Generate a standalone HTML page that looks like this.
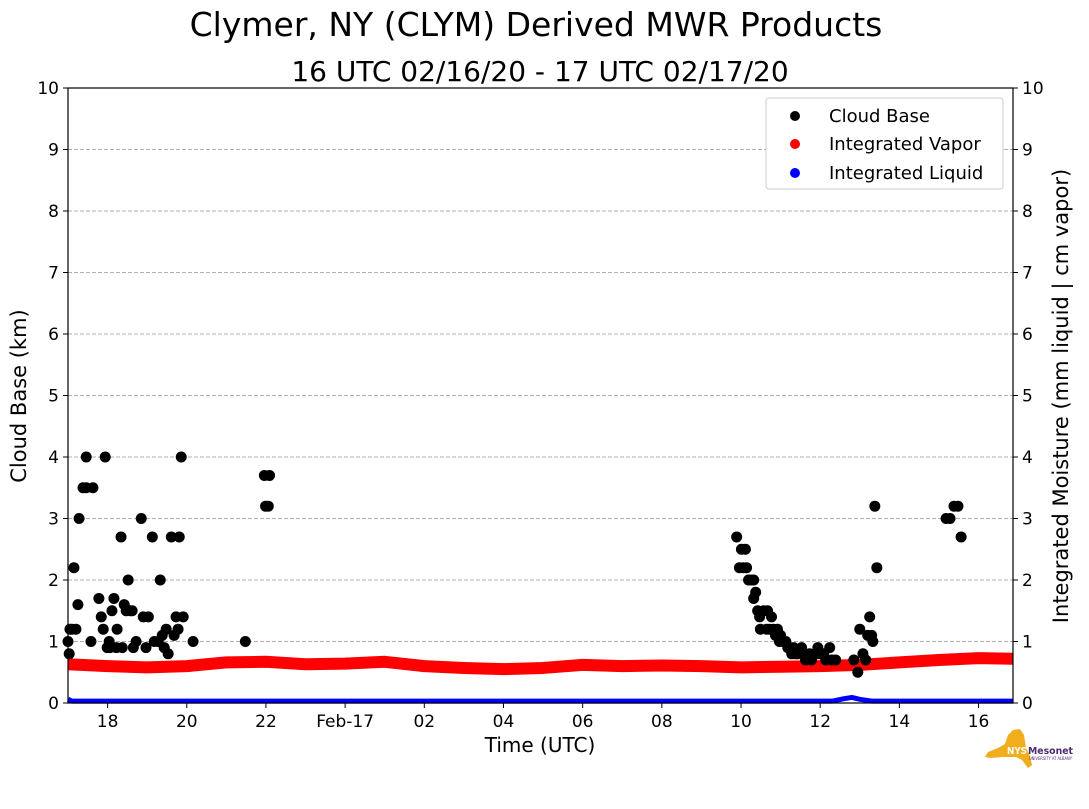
<!DOCTYPE html>
<html><head><meta charset="utf-8"><style>
body{margin:0;background:#fff;}
svg text{font-family:"DejaVu Sans","Liberation Sans",sans-serif;}
</style></head><body>
<svg id="chart" width="1089" height="804" xmlns="http://www.w3.org/2000/svg">
<text x="536" y="36" font-size="33" text-anchor="middle">Clymer, NY (CLYM) Derived MWR Products</text>
<text x="540" y="81" font-size="28" text-anchor="middle">16 UTC 02/16/20 - 17 UTC 02/17/20</text>
<g id="grid"></g>
<g id="series"></g>
<rect x="68" y="88" width="945" height="615" fill="none" stroke="#000" stroke-width="1.2"/>
<g id="axes"></g>
<text x="540" y="752" font-size="20" text-anchor="middle">Time (UTC)</text>
<text transform="translate(26,396) rotate(-90)" font-size="21" text-anchor="middle">Cloud Base (km)</text>
<text transform="translate(1068,396) rotate(-90)" font-size="21" text-anchor="middle">Integrated Moisture (mm liquid | cm vapor)</text>
<g>
<rect x="766" y="98" width="237" height="91" rx="3" fill="#fff" stroke="#ccc"/>
<circle cx="795" cy="116" r="5" fill="#000"/><text x="829" y="122" font-size="18">Cloud Base</text>
<circle cx="795" cy="144" r="5" fill="red"/><text x="829" y="150" font-size="18">Integrated Vapor</text>
<circle cx="795" cy="173" r="5" fill="blue"/><text x="829" y="179" font-size="18">Integrated Liquid</text>
</g>
<g>
<polygon points="988,752 998,748 1005,744 1008,735 1013,730 1020,729 1024,735 1026,748 1030,756 1032,765 1028,768 1022,760 1016,757 1003,757 991,758 985,757" fill="#f0ad1c"/>
<text x="1007" y="754" font-size="10" font-weight="bold" fill="#fff" textLength="20" lengthAdjust="spacingAndGlyphs">NYS</text>
<text x="1028" y="754" font-size="10" font-weight="bold" fill="#4b2a73" textLength="45" lengthAdjust="spacingAndGlyphs">Mesonet</text>
<text x="1029" y="760" font-size="4" fill="#4b2a73" textLength="43" lengthAdjust="spacingAndGlyphs">UNIVERSITY AT ALBANY</text>
</g>
</svg>
<script>
// time in hours since 17 UTC 02/16/20
const cloudTimes = [0,0.03,0.05,0.15,0.10,0.20,0.25,0.28,0.38,0.46,0.46,0.58,0.63,0.78,0.84,0.89,0.94,0.99,1.04,1.06,1.11,1.16,1.22,1.24,1.34,1.37,1.42,1.47,1.52,1.57,1.62,1.65,1.72,1.85,1.90,1.97,2.03,2.13,2.18,2.28,2.33,2.38,2.43,2.48,2.53,2.61,2.68,2.73,2.78,2.81,2.86,2.91,3.16,4.48,4.96,4.99,5.06,5.09,
16.89,16.96,17.01,17.11,17.06,17.14,17.19,17.27,17.32,17.32,17.37,17.42,17.47,17.49,17.57,17.65,17.67,17.72,17.77,17.82,17.87,17.92,17.97,18.00,18.05,18.13,18.18,18.23,18.28,18.33,18.38,18.43,18.53,18.58,18.63,18.73,18.78,18.89,18.94,18.99,19.09,19.14,19.24,19.29,19.39,19.85,19.95,20.00,20.08,20.15,20.20,20.25,20.30,20.33,20.38,20.43,22.18,22.28,22.38,22.48,22.56];
const cloudBase = [1.0,0.8,1.2,2.2,1.2,1.2,1.6,3.0,3.5,4.0,3.5,1.0,3.5,1.7,1.4,1.2,4.0,0.9,1.0,0.9,1.5,1.7,0.9,1.2,2.7,0.9,1.6,1.5,2.0,1.5,1.5,0.9,1.0,3.0,1.4,0.9,1.4,2.7,1.0,1.0,2.0,1.1,0.9,1.2,0.8,2.7,1.1,1.4,1.2,2.7,4.0,1.4,1.0,1.0,3.7,3.2,3.2,3.7,
2.7,2.2,2.5,2.5,2.2,2.2,2.0,2.0,2.0,1.7,1.8,1.5,1.4,1.2,1.5,1.2,1.5,1.2,1.4,1.2,1.1,1.2,1.0,1.1,1.0,1.0,0.9,0.9,0.8,0.9,0.8,0.8,0.9,0.8,0.7,0.8,0.7,0.8,0.9,0.8,0.8,0.7,0.9,0.7,0.7,0.7,0.5,1.2,0.8,0.7,1.1,1.4,1.1,1.0,3.2,2.2,3.0,3.0,3.2,3.2,2.7];
const vaporTimes = [0,1,2,3,4,5,6,7,8,9,10,11,12,13,14,15,16,17,18,19,20,21,22,23,23.87];
const vaporValues = [0.63,0.60,0.58,0.60,0.66,0.67,0.63,0.64,0.67,0.60,0.57,0.55,0.57,0.62,0.60,0.61,0.60,0.58,0.59,0.60,0.62,0.66,0.70,0.73,0.72];
const liquidTimes = [0,0.1,5,10,15,19.3,19.6,19.8,20.0,20.3,23.87];
const liquidValues = [0.06,0.03,0.03,0.03,0.03,0.03,0.07,0.09,0.06,0.03,0.03];
const yTicks = [0,1,2,3,4,5,6,7,8,9,10];
const xTickTimes = [1,3,5,7,9,11,13,15,17,19,21,23];
const xTickLabels = ['18','20','22','Feb-17','02','04','06','08','10','12','14','16'];

const NS='http://www.w3.org/2000/svg';
const X0=68,X1=1013,Y0=703,Y1=88,T1=23.87;
const xs=t=>X0+t/T1*(X1-X0);
const ys=v=>Y0-v/10*(Y0-Y1);
function mk(tag,parent,attrs){const e=document.createElementNS(NS,tag);for(const k in attrs)e.setAttribute(k,attrs[k]);document.getElementById(parent).appendChild(e);return e;}

yTicks.forEach(v=>{
  if(v>0&&v<10){const g=mk('line','grid',{x1:X0,x2:X1,y1:ys(v),y2:ys(v),stroke:'#b0b0b0','stroke-dasharray':'4,2','stroke-width':1});
  
  }
  const t1=mk('line','axes',{x1:X0-5,x2:X0,y1:ys(v),y2:ys(v),stroke:'#000'});
  
  
  const t2=mk('line','axes',{x1:X1,x2:X1+5,y1:ys(v),y2:ys(v),stroke:'#000'});
  
  
  const l1=mk('text','axes',{x:X0-9,y:ys(v)+6,'font-size':17,'text-anchor':'end'});l1.textContent=v;
  
  
  const l2=mk('text','axes',{x:X1+9,y:ys(v)+6,'font-size':17});l2.textContent=v;
  
  
});
xTickTimes.forEach((t,i)=>{
  const tk=mk('line','axes',{x1:xs(t),x2:xs(t),y1:Y0,y2:Y0+5,stroke:'#000'});
  
  
  const l=mk('text','axes',{x:xs(t),y:Y0+24,'font-size':17,'text-anchor':'middle'});l.textContent=xTickLabels[i];
  
  
});
const vp=mk('polyline','series',{points:vaporTimes.map((t,i)=>xs(t)+','+ys(vaporValues[i])).join(' '),fill:'none',stroke:'red','stroke-width':12,'stroke-linejoin':'round'});


const lq=mk('polyline','series',{points:liquidTimes.map((t,i)=>xs(t)+','+ys(liquidValues[i])).join(' '),fill:'none',stroke:'blue','stroke-width':5,'stroke-linejoin':'round'});


cloudTimes.forEach((t,i)=>{
  const c=mk('circle','series',{cx:xs(t),cy:ys(cloudBase[i]),r:5.5,fill:'#000'});
  
  
});
</script>
</body></html>
